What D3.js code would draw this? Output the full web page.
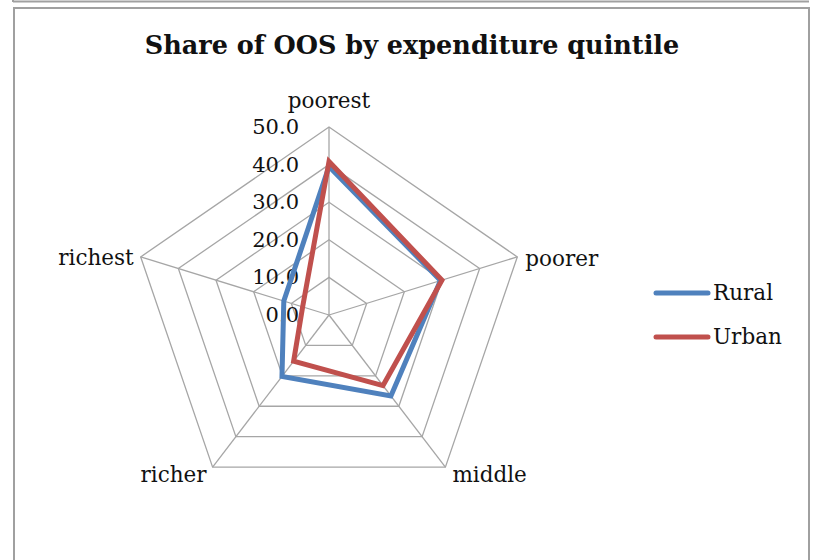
<!DOCTYPE html>
<html lang="en">
<head>
    <meta charset="utf-8">
    <title>Share of OOS by expenditure quintile</title>
    <script src="https://d3js.org/d3.v7.min.js"></script>
    <style>
        body { margin: 0; background: white; }
        svg text { font-family: "DejaVu Serif", serif; fill: #111; }
    </style>
</head>
<body>
    <div id="chart"></div>
    <script>
        // data
        const quintiles = ["poorest", "poorer", "middle", "richer", "richest"];
        const rural = [39.5, 29.6, 26.6, 20.2, 12.0];
        const urban = [40.8, 30.0, 23.2, 15.2, 7.0];
        const ticks = [0, 10, 20, 30, 40, 50];
        const seriesNames = ["Rural", "Urban"];
        const seriesColors = ["#4F81BD", "#C0504D"];

        var width = 813, height = 560;
        // the plot area is a bit wider than tall, like the original
        var cx = 329, cy = 315, rx = 198, ry = 188;

        var svg = d3.select("#chart").append("svg")
            .attr("width", width)
            .attr("height", height);

        // frames
        svg.append("line")
            .attr("x1", 13).attr("x2", 809).attr("y1", 1.5).attr("y2", 1.5)
            .attr("stroke", "#a0a0a0").attr("stroke-width", 2);
        svg.append("line")
            .attr("x1", 13).attr("x2", 13).attr("y1", 0).attr("y2", 2)
            .attr("stroke", "#a0a0a0").attr("stroke-width", 2);
        svg.append("rect")
            .attr("x", 14).attr("y", 8).attr("width", 795).attr("height", 600)
            .attr("fill", "white").attr("stroke", "#a0a0a0").attr("stroke-width", 2);

        svg.append("text")
            .attr("x", 412).attr("y", 54)
            .attr("text-anchor", "middle")
            .style("font-size", "25.5px").style("font-weight", "bold")
            .text("Share of OOS by expenditure quintile");

        var r = d3.scaleLinear().domain([0, 50]).range([0, 1]);
        var angle = d3.scaleLinear().domain([0, quintiles.length]).range([0, 2 * Math.PI]);

        function px(i, v) { return cx + rx * r(v) * Math.sin(angle(i)); }
        function py(i, v) { return cy - ry * r(v) * Math.cos(angle(i)); }

        var g = svg.append("g");

        // spokes
        quintiles.forEach(function (q, i) {
            g.append("line")
                .attr("x1", cx).attr("y1", cy)
                .attr("x2", px(i, 50)).attr("y2", py(i, 50))
                .attr("stroke", "#a6a6a6").attr("stroke-width", 1.3);
        });

        // rings
        ticks.slice(1).forEach(function (t) {
            g.append("path")
                .attr("d", d3.line()(quintiles.map(function (q, i) { return [px(i, t), py(i, t)]; })) + "Z")
                .attr("fill", "none")
                .attr("stroke", "#a6a6a6").attr("stroke-width", 1.3);
        });

        // tick labels
        g.selectAll(".tick").data(ticks).enter().append("text")
            .attr("x", cx - 30)
            .attr("y", function (t) { return py(0, t) + 7; })
            .attr("text-anchor", "end")
            .style("font-size", "21px")
            .text(function (t) { return t.toFixed(1); });

        // series
        [rural, urban].forEach(function (vals, s) {
            g.append("path")
                .attr("d", d3.line()(vals.map(function (v, i) { return [px(i, v), py(i, v)]; })) + "Z")
                .attr("fill", "none")
                .attr("stroke", seriesColors[s])
                .attr("stroke-width", 5)
                .attr("stroke-linejoin", "miter");
        });

        // category labels
        var labelPos = [
            { dx: 0, dy: -19, anchor: "middle" },
            { dx: 8, dy: 9, anchor: "start" },
            { dx: 7, dy: 15, anchor: "start" },
            { dx: -6, dy: 15, anchor: "end" },
            { dx: -7, dy: 8, anchor: "end" }
        ];
        quintiles.forEach(function (q, i) {
            g.append("text")
                .attr("x", px(i, 50) + labelPos[i].dx)
                .attr("y", py(i, 50) + labelPos[i].dy)
                .attr("text-anchor", labelPos[i].anchor)
                .style("font-size", "21.5px")
                .text(q);
        });

        // legend
        var legend = svg.append("g");
        seriesNames.forEach(function (name, s) {
            var y = 293 + s * 44;
            legend.append("line")
                .attr("x1", 656).attr("x2", 708).attr("y1", y).attr("y2", y)
                .attr("stroke", seriesColors[s]).attr("stroke-width", 5)
                .attr("stroke-linecap", "round");
            legend.append("text")
                .attr("x", 713).attr("y", y + 7)
                .style("font-size", "21.5px")
                .text(name);
        });
    </script>
</body>
</html>
